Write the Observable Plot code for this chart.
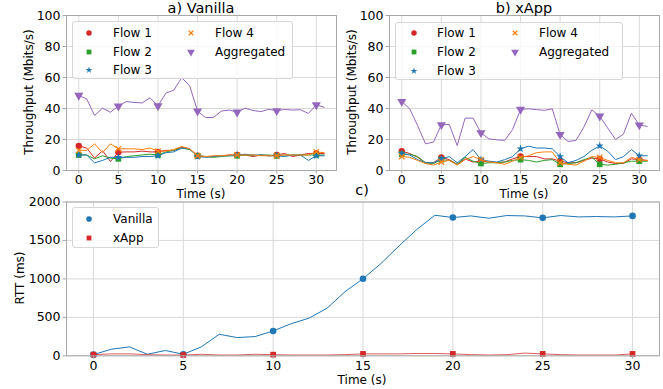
<!DOCTYPE html>
<html><head><meta charset="utf-8">
<script src="https://cdn.jsdelivr.net/npm/d3@7"></script>
<script src="https://cdn.jsdelivr.net/npm/@observablehq/plot@0.6"></script>
<style>
body{margin:0;background:#fff;}
#c{position:relative;width:663px;height:389px;font-family:"DejaVu Sans",sans-serif;color:#000;overflow:hidden;background:#fff;}
.abs{position:absolute;white-space:nowrap;line-height:1;}
.lg{position:absolute;background:rgba(255,255,255,0.8);border:1px solid #d6d6d6;border-radius:3px;box-sizing:border-box;}
</style></head><body><div id="c"></div><script>
// ---- data ----
const timesAB = [0,1,2,3,4,5,6,7,8,9,10,11,12,13,14,15,16,17,18,19,20,21,22,23,24,25,26,27,28,29,30,31];
const timesC = [0,1,2,3,4,5,6,7,8,9,10,11,12,13,14,15,16,17,18,19,20,21,22,23,24,25,26,27,28,29,30];
const xTicks = [0,5,10,15,20,25,30];
const yTicksTp = [0,20,40,60,80,100];
const yTicksRtt = [0,500,1000,1500,2000];
const seriesNamesTp = ["Flow 1","Flow 2","Flow 3","Flow 4","Aggregated"];
const seriesNamesRtt = ["Vanilla","xApp"];

const flow1A = [15.9,14.5,8,12.8,5.8,11.8,12,12,12.5,12,12,13,13,15,14,9.5,9,9,9.5,10,10,10,9,10,9.5,10,11,9,10,11,11,11];
const flow2A = [10,10,7.5,9.5,8,7.5,9,9.5,10,10.5,10,12,13,14.5,13.5,9.5,9,8.5,9,9.5,9.5,10,9.5,10,10,9.5,10,10,10,10,10,10];
const flow3A = [10,10,4.9,6.5,8.5,8.5,8.5,8.5,9,9,9.5,11.5,12,14.5,14,9,8.5,9,9.5,9.5,10,10.5,10,10,9.5,9.5,9,10,10,6.5,9.5,9.5];
const flow4A = [13,13,17.2,11.5,17.2,14,14,14,13.5,14.5,12.5,12.5,13.5,15.5,14,9.5,9,9.5,9.5,10,10,10,10,9.5,9.5,9.5,10,10,10,10,12,11.5];
const aggA = [48.4,46.2,35.5,40.2,37.6,41.5,44.5,43.9,43.6,46.9,41.7,49.9,51.8,59.8,54.8,38.3,34.2,34.2,38.3,39,37.6,40.2,38.7,38,39.5,38.5,39.4,39,39.2,36.8,42.3,40.8];

const flow1B = [12.5,11,8.5,5,5,8.5,7,4,7.5,5.5,6,5.5,5,5.5,7.5,9,9,9,7.5,7.5,6,5,5,6.5,8,7.5,5.5,4.5,4.5,7.5,7,6.5];
const flow2B = [10.5,10.5,9,5,4.5,7,6.5,4,8.5,6,4.5,5,5,5.5,6.5,7,6.5,5.5,6.5,7,4,4.5,5,7,8.5,4,3.5,4,5,6,6,6];
const flow3B = [11,10,7,5,5,7.5,9,5,9,13.5,7,6,5.5,7,9,14,15.7,14.5,14.5,14,9,5,6.5,9,13,15.9,12.5,7,9,13.5,9.5,9.5];
const flow4B = [9,8.5,6.5,4.5,3.5,5.5,6.5,3.5,7,9,7,5.5,5,4,6,8.5,9.5,11.5,12,12,5,4,3.5,6,9,8.5,6.5,5,5,8.5,7,6.5];
const aggB = [44.5,39.8,29,17.2,18.3,29.5,29.7,16.1,33.8,33.8,24.3,20.4,19.8,19.4,26.5,39.4,39.8,39.3,38.8,39.8,23.2,18.7,19.4,28,39.1,35,27.5,20,23.5,37,29.3,28.5];

const rttVanilla = [15,86,116,20,69,20,116,280,237,250,323,417,490,619,834,1002,1200,1428,1643,1828,1798,1819,1789,1824,1819,1794,1824,1806,1811,1806,1819];
const rttXApp = [15,25,25,15,10,10,20,10,10,20,15,10,10,10,15,25,25,25,30,30,25,15,10,15,35,25,15,10,10,10,25];

// ---- styles ----
const triangleDown = {
  draw(ctx, size) {
    const y = -Math.sqrt(size / (Math.sqrt(3) * 3));
    const s3 = Math.sqrt(3);
    ctx.moveTo(0, -y * 2);
    ctx.lineTo(-s3 * y, y);
    ctx.lineTo(s3 * y, y);
    ctx.closePath();
  }
};
const colTp = ["#d62728","#2ca02c","#1f77b4","#ff7f0e","#9467bd"];
const symTp = ["circle","square","star","times",triangleDown];
const d3SymTp = [d3.symbolCircle, d3.symbolSquare, d3.symbolStar, d3.symbolTimes, triangleDown];
const rTp = [3.2, 3.2, 2.5, 2.6, 3.4];
const colRtt = ["#1f77b4","#d62728"];
const symRtt = ["circle","square"];
const d3SymRtt = [d3.symbolCircle, d3.symbolSquare];
const rRtt = [3.3, 3.2];

const root = document.getElementById("c");

function panel({names, values, times, colors, symbols, radii, yDomain, yTicks, xDomain, left, top, width, height, mL, mR, mT, mB, opac}) {
  const marks = [
    Plot.gridX(xTicks, {stroke: "#d9d9d9", strokeOpacity: 1}),
    Plot.gridY(yTicks, {stroke: "#d9d9d9", strokeOpacity: 1}),
  ];
  names.forEach((n, k) => {
    const rows = values[k].map((v, i) => ({t: times[i], v}));
    const mrows = rows.filter(d => d.t % 5 === 0);
    marks.push(Plot.line(rows, {x: "t", y: "v", stroke: colors[k], strokeWidth: 1, strokeOpacity: opac ? opac[k] : 1}));
    const isTimes = symbols[k] === "times";
    marks.push(Plot.dot(mrows, {x: "t", y: "v", symbol: () => symbols[k], r: radii[k],
      fill: isTimes ? "none" : colors[k], stroke: isTimes ? colors[k] : "none", strokeWidth: 1.2}));
  });
  marks.push(Plot.frame({stroke: "#a8a8a8"}));
  marks.push(Plot.axisX(xTicks, {tickSize: 3.5, tickPadding: 1.5, fontSize: 12.5, label: null, stroke: "#a8a8a8", tickFormat: d3.format("d")}));
  marks.push(Plot.axisY(yTicks, {tickSize: 3.5, tickPadding: 2.5, fontSize: 12.5, label: null, stroke: "#a8a8a8", tickFormat: d3.format("d")}));
  const svg = Plot.plot({
    width, height, marginLeft: mL, marginRight: mR, marginTop: mT, marginBottom: mB,
    x: {domain: xDomain}, y: {domain: yDomain},
    symbol: {type: "identity"},
    style: {fontFamily: "DejaVu Sans", fontSize: "12.5px", color: "#000", background: "transparent", overflow: "visible"},
    marks
  });
  svg.style.position = "absolute";
  svg.style.left = left + "px";
  svg.style.top = top + "px";
  root.appendChild(svg);
}

function text(str, cx, cy, size, rot) {
  const d = document.createElement("div");
  d.className = "abs";
  d.textContent = str;
  d.style.fontSize = size + "px";
  d.style.left = cx + "px";
  d.style.top = cy + "px";
  d.style.transform = "translate(-50%,-50%)" + (rot ? " rotate(-90deg)" : "");
  root.appendChild(d);
}

function legend(box, entries) {
  const b = document.createElement("div");
  b.className = "lg";
  Object.assign(b.style, {left: box[0] + "px", top: box[1] + "px", width: box[2] + "px", height: box[3] + "px"});
  root.appendChild(b);
  entries.forEach(e => {
    const ns = "http://www.w3.org/2000/svg";
    const s = document.createElementNS(ns, "svg");
    s.setAttribute("width", 14); s.setAttribute("height", 14);
    s.style.position = "absolute"; s.style.left = (e.mx - 7) + "px"; s.style.top = (e.my - 7) + "px";
    const p = document.createElementNS(ns, "path");
    p.setAttribute("transform", "translate(7,7)");
    p.setAttribute("d", d3.symbol(e.sym, Math.PI * e.r * e.r)());
    if (e.sym === d3.symbolTimes) { p.setAttribute("fill", "none"); p.setAttribute("stroke", e.color); p.setAttribute("stroke-width", 1.2); }
    else p.setAttribute("fill", e.color);
    s.appendChild(p);
    root.appendChild(s);
    const t = document.createElement("div");
    t.className = "abs";
    t.textContent = e.name;
    t.style.fontSize = "12px";
    t.style.left = e.tx + "px";
    t.style.top = e.my + "px";
    t.style.transform = "translateY(-50%)";
    root.appendChild(t);
  });
}

// Panel a
panel({names: seriesNamesTp, values: [flow1A, flow2A, flow3A, flow4A, aggA], times: timesAB, colors: colTp, symbols: symTp, radii: rTp,
  yDomain: [0, 100], yTicks: yTicksTp, xDomain: [-1.55, 32.55],
  left: 0, top: 0, width: 340, height: 200, mL: 66, mR: 4, mT: 15, mB: 30});
// Panel b
panel({names: seriesNamesTp, values: [flow1B, flow2B, flow3B, flow4B, aggB], times: timesAB, colors: colTp, symbols: symTp, radii: rTp,
  yDomain: [0, 100], yTicks: yTicksTp, xDomain: [-1.55, 32.55],
  left: 330, top: 0, width: 333, height: 200, mL: 59, mR: 4, mT: 15, mB: 30});
// Panel c
panel({names: seriesNamesRtt, values: [rttVanilla, rttXApp], times: timesC, colors: colRtt, symbols: symRtt, radii: rRtt,
  yDomain: [0, 2000], yTicks: yTicksRtt, xDomain: [-1.5, 31.5],
  left: 0, top: 185, width: 663, height: 204, mL: 66, mR: 4, mT: 16.5, mB: 33.7, opac: [1, 0.75]});

// titles & labels
text("a) Vanilla", 201, 8, 14.5);
text("b) xApp", 524, 8, 14.5);
text("c)", 362, 190, 14.5);
text("Throughput (Mbits/s)", 29, 92, 12, true);
text("Throughput (Mbits/s)", 352, 92, 12, true);
text("Time (s)", 201, 194, 12);
text("Time (s)", 524, 194, 12);
text("Time (s)", 362, 380, 12);
text("RTT (ms)", 20, 278, 12, true);

// legends
const lgA = [[89,33,113],[89,52,113],[89,70,113],[191,33,215],[191,52,215]];
legend([72, 21, 221, 58], seriesNamesTp.map((n, k) => ({name: n, color: colTp[k], sym: d3SymTp[k], r: rTp[k] * 0.85, mx: lgA[k][0], my: lgA[k][1], tx: lgA[k][2]})));
const lgB = [[414,33,437],[414,52,437],[414,71,437],[515,33,539],[515,52,539]];
legend([395, 22, 228, 58], seriesNamesTp.map((n, k) => ({name: n, color: colTp[k], sym: d3SymTp[k], r: rTp[k] * 0.85, mx: lgB[k][0], my: lgB[k][1], tx: lgB[k][2]})));
const lgC = [[89,219,113],[89,238,113]];
legend([72, 207, 87, 41], seriesNamesRtt.map((n, k) => ({name: n, color: colRtt[k], sym: d3SymRtt[k], r: rRtt[k] * 0.85, mx: lgC[k][0], my: lgC[k][1], tx: lgC[k][2]})));
</script></body></html>
